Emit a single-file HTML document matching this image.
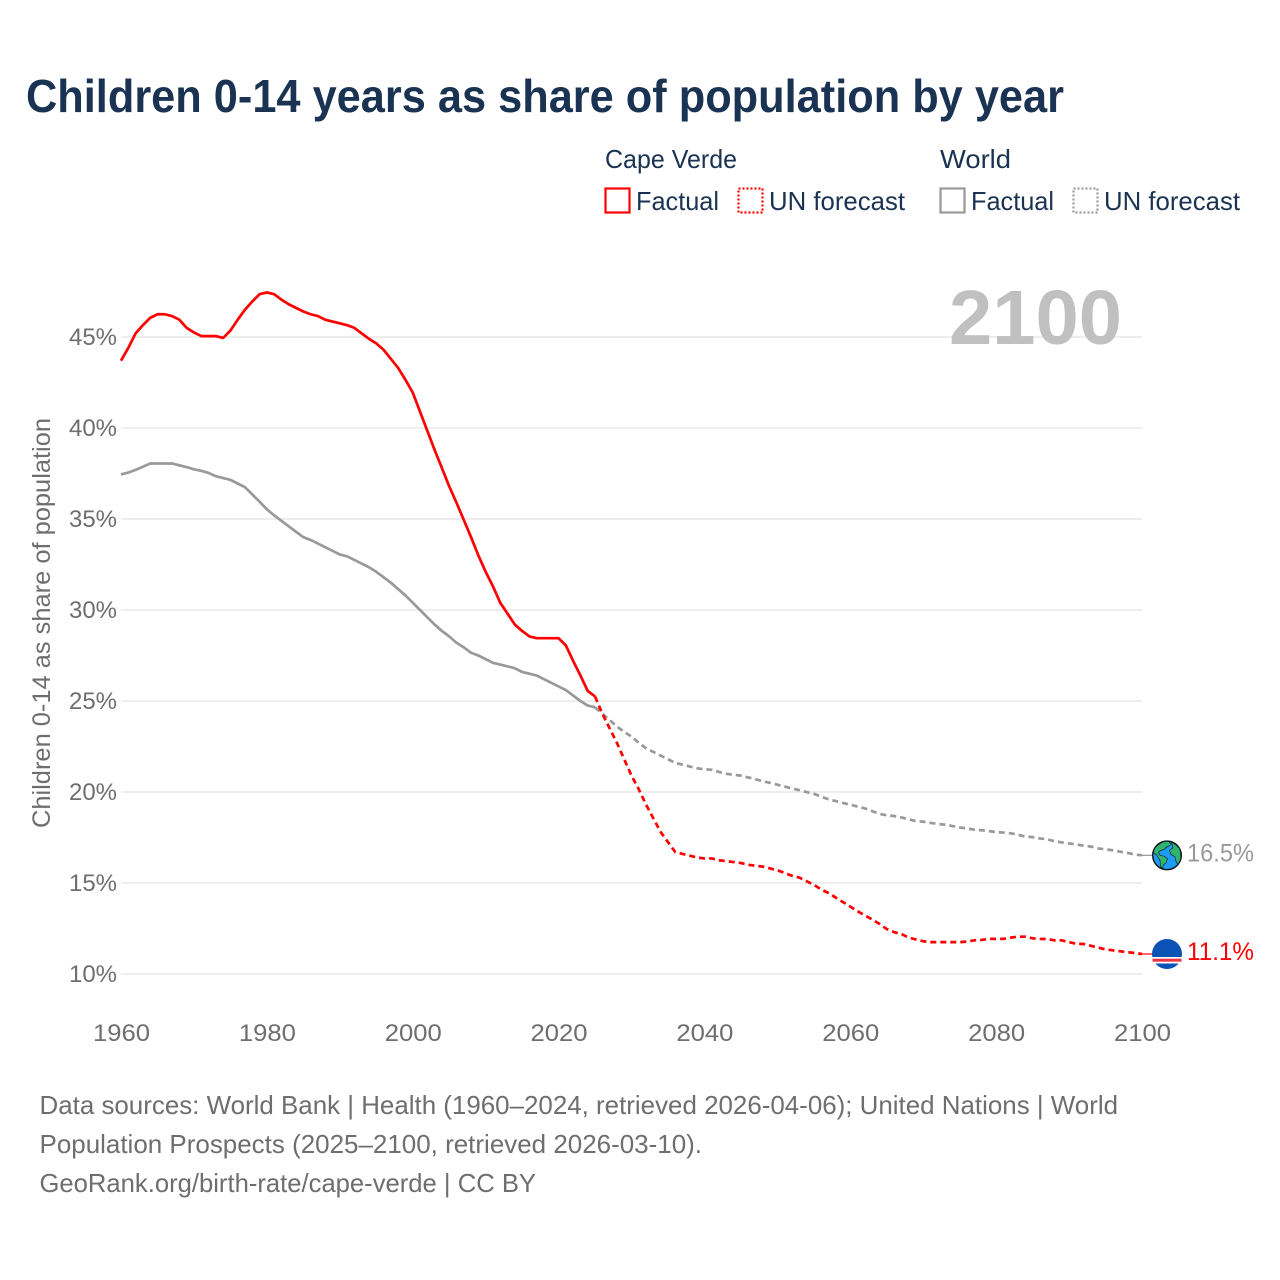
<!DOCTYPE html>
<html lang="en">
<head>
<meta charset="utf-8">
<title>Children 0-14 years as share of population by year</title>
<style>
html,body{margin:0;padding:0;background:#fff;}
svg{display:block;}
text{font-family:"Liberation Sans",sans-serif;}
</style>
</head>
<body>
<svg id="chart" width="1280" height="1280" viewBox="0 0 1280 1280" xmlns="http://www.w3.org/2000/svg">
  <rect x="0" y="0" width="1280" height="1280" fill="#fff"/>
  <text x="26" y="112" font-size="46" font-weight="700" fill="#1a3353" textLength="1038" lengthAdjust="spacingAndGlyphs">Children 0-14 years as share of population by year</text>

  <g font-size="26" fill="#1a3353">
    <text x="605" y="168" textLength="132" lengthAdjust="spacingAndGlyphs">Cape Verde</text>
    <text x="940" y="168" textLength="71" lengthAdjust="spacingAndGlyphs">World</text>
    <rect x="605.5" y="188.5" width="24" height="24" fill="none" stroke="#ff0000" stroke-width="2.2"/>
    <text x="636" y="210" textLength="83" lengthAdjust="spacingAndGlyphs">Factual</text>
    <rect x="738.5" y="188.5" width="24" height="24" fill="none" stroke="#ff0000" stroke-width="2.2" stroke-dasharray="2 2"/>
    <text x="769" y="210" textLength="136" lengthAdjust="spacingAndGlyphs">UN forecast</text>
    <rect x="940.5" y="188.5" width="24" height="24" fill="none" stroke="#999999" stroke-width="2.2"/>
    <text x="971" y="210" textLength="83" lengthAdjust="spacingAndGlyphs">Factual</text>
    <rect x="1073.5" y="188.5" width="24" height="24" fill="none" stroke="#999999" stroke-width="2.2" stroke-dasharray="2 2"/>
    <text x="1104" y="210" textLength="136" lengthAdjust="spacingAndGlyphs">UN forecast</text>
  </g>

  <g id="grid"></g>
  <text x="949" y="344" font-size="77" font-weight="700" fill="#c0c0c0" textLength="173" lengthAdjust="spacingAndGlyphs">2100</text>
  <g id="yticks" font-size="24" fill="#6e6e6e" text-anchor="end"></g>
  <g id="xticks" font-size="24" fill="#6e6e6e" text-anchor="middle"></g>
  <text transform="translate(50,828) rotate(-90)" x="0" y="0" font-size="25" fill="#6e6e6e" textLength="410" lengthAdjust="spacingAndGlyphs">Children 0-14 as share of population</text>

  <g id="series"></g>

  <g id="globe-icon">
    <circle cx="0" cy="0" r="14.3" fill="#1e9bf5" stroke="#111" stroke-width="1.4"/>
    <path d="M-8-11C-5-13.5-1-14.3 2-13.8L4-11C2-8.5-1-9-2-6.5-4-5-7-5.5-8.5-3L-7 0-2.5 1 .5 3.5-1 7.5-3.5 9.5-4.5 13.2-6.5 11-7 5-10.5-.5-13.5-3C-13.3-6-11-9-8-11Z" fill="#2fb56b" stroke="#123" stroke-width=".7"/>
    <path d="M4.5-12.8C8.5-11.5 11.5-8.5 13.3-5L13.8 3 11 9.5 9 6 8 1.5 4-1 2.5-5 6-7.5Z" fill="#2fb56b" stroke="#123" stroke-width=".7"/>
  </g>
  <g id="flag-icon">
    <circle cx="0" cy="0" r="15" fill="#0a52b5"/>
    <path d="M-14.6 3H14.6L14.9 2V9.5L14 9.5H-14L-14.9 9.5V2Z" fill="#fff"/>
    <rect x="-14.5" y="4.7" width="29" height="3" fill="#ee3344"/>
  </g>
  <text id="world-value" x="1187" font-size="25" fill="#999999" textLength="67" lengthAdjust="spacingAndGlyphs"></text>
  <text id="cv-value" x="1187" font-size="25" fill="#ff0000" textLength="67" lengthAdjust="spacingAndGlyphs"></text>

  <g font-size="26" fill="#6e6e6e">
    <text x="39.5" y="1114" textLength="1078.5" lengthAdjust="spacingAndGlyphs">Data sources: World Bank | Health (1960–2024, retrieved 2026-04-06); United Nations | World</text>
    <text x="39.5" y="1153" textLength="662.5" lengthAdjust="spacingAndGlyphs">Population Prospects (2025–2100, retrieved 2026-03-10).</text>
    <text x="39.5" y="1192" textLength="496.5" lengthAdjust="spacingAndGlyphs">GeoRank.org/birth-rate/cape-verde | CC BY</text>
  </g>
</svg>
<script>
const xTickYears = [1960, 1980, 2000, 2020, 2040, 2060, 2080, 2100];
const yTickValues = [10, 15, 20, 25, 30, 35, 40, 45];
const factualStartYear = 1960;
const forecastStartYear = 2025;

const capeVerdeFactual = [43.7,44.4,45.2,45.65,46.05,46.25,46.25,46.15,45.95,45.5,45.25,45.05,45.05,45.05,44.95,45.35,45.95,46.5,46.95,47.35,47.45,47.35,47.05,46.8,46.6,46.4,46.25,46.15,45.95,45.85,45.75,45.65,45.5,45.2,44.9,44.65,44.3,43.8,43.3,42.65,41.95,40.9,39.85,38.8,37.8,36.8,35.9,34.95,34.0,33.0,32.1,31.3,30.4,29.8,29.2,28.85,28.55,28.45,28.45,28.45,28.45,28.05,27.2,26.4,25.55,25.25];
const capeVerdeForecast = [25.25,24.3,23.5,22.7,21.8,20.9,20.15,19.3,18.55,17.8,17.25,16.7,16.6,16.5,16.4,16.35,16.35,16.25,16.2,16.15,16.1,16.0,15.95,15.9,15.8,15.7,15.55,15.4,15.3,15.1,14.9,14.65,14.45,14.2,13.95,13.7,13.45,13.22,13.0,12.75,12.47,12.3,12.2,12.0,11.9,11.8,11.75,11.75,11.75,11.75,11.75,11.78,11.85,11.87,11.93,11.93,11.93,12.0,12.05,12.05,11.96,11.93,11.92,11.85,11.85,11.75,11.66,11.65,11.55,11.45,11.35,11.3,11.25,11.2,11.15,11.1];
const worldFactual = [37.45,37.55,37.7,37.87,38.05,38.05,38.05,38.05,37.95,37.85,37.73,37.65,37.53,37.35,37.25,37.15,36.95,36.75,36.35,35.95,35.53,35.2,34.9,34.6,34.3,34.0,33.85,33.65,33.45,33.25,33.05,32.95,32.75,32.55,32.35,32.1,31.8,31.5,31.15,30.8,30.4,30.0,29.6,29.2,28.85,28.55,28.2,27.95,27.65,27.5,27.3,27.1,27.0,26.9,26.8,26.6,26.5,26.4,26.2,26.0,25.8,25.6,25.3,25.0,24.75,24.65];
const worldForecast = [24.65,24.3,23.95,23.6,23.3,23.05,22.7,22.4,22.2,22.0,21.8,21.6,21.5,21.4,21.3,21.25,21.22,21.1,21.0,20.95,20.9,20.8,20.7,20.6,20.5,20.4,20.3,20.2,20.1,20.0,19.9,19.75,19.6,19.5,19.4,19.3,19.2,19.1,18.95,18.8,18.72,18.68,18.6,18.5,18.4,18.37,18.3,18.25,18.2,18.13,18.05,18.0,17.93,17.9,17.85,17.8,17.77,17.73,17.65,17.55,17.52,17.45,17.4,17.3,17.23,17.17,17.12,17.05,17.0,16.9,16.85,16.8,16.72,16.65,16.57,16.52];

const NS = 'http://www.w3.org/2000/svg';
function xScale(year) { return 121 + (year - 1960) * (1142 - 121) / 140; }
function yScale(value) { return 974 - (value - 10) * (974 - 337) / 35; }
function linePath(values, startYear) {
  return values.map(function (v, i) {
    return (i ? 'L' : 'M') + xScale(startYear + i).toFixed(2) + ' ' + yScale(v).toFixed(2);
  }).join('');
}
function drawLine(parent, name, values, startYear, color, dashed) {
  const p = document.createElementNS(NS, 'path');
  
  
  p.setAttribute('d', linePath(values, startYear));
  p.setAttribute('fill', 'none');
  p.setAttribute('stroke', color);
  p.setAttribute('stroke-width', '2.7');
  p.setAttribute('stroke-linejoin', 'round');
  if (dashed) p.setAttribute('stroke-dasharray', '6 4');
  parent.appendChild(p);
}

const grid = document.getElementById('grid');
const yticks = document.getElementById('yticks');
yTickValues.forEach(function (v) {
  const l = document.createElementNS(NS, 'line');
  
  
  l.setAttribute('x1', xScale(1960));
  l.setAttribute('x2', xScale(2100));
  l.setAttribute('y1', yScale(v));
  l.setAttribute('y2', yScale(v));
  l.setAttribute('stroke', '#eeeeee');
  l.setAttribute('stroke-width', '2');
  grid.appendChild(l);
  const t = document.createElementNS(NS, 'text');
  
  
  t.setAttribute('x', 117);
  t.setAttribute('y', yScale(v) + 8);
  t.setAttribute('textLength', '48');
  t.setAttribute('lengthAdjust', 'spacingAndGlyphs');
  t.textContent = v + '%';
  yticks.appendChild(t);
});

const xticks = document.getElementById('xticks');
xTickYears.forEach(function (yr) {
  const t = document.createElementNS(NS, 'text');
  
  
  t.setAttribute('x', xScale(yr) + 0.5);
  t.setAttribute('y', 1041);
  t.setAttribute('textLength', '57');
  t.setAttribute('lengthAdjust', 'spacingAndGlyphs');
  t.textContent = yr;
  xticks.appendChild(t);
});

const series = document.getElementById('series');
drawLine(series, 'world-factual-line', worldFactual, factualStartYear, '#999999', false);
drawLine(series, 'world-forecast-line', worldForecast, forecastStartYear, '#999999', true);
drawLine(series, 'cape-verde-factual-line', capeVerdeFactual, factualStartYear, '#ff0000', false);
drawLine(series, 'cape-verde-forecast-line', capeVerdeForecast, forecastStartYear, '#ff0000', true);

function placeEnd(values, color, iconId, labelId, leaderName) {
  const last = values[values.length - 1];
  const py = yScale(last);
  const l = document.createElementNS(NS, 'line');
  
  
  l.setAttribute('x1', xScale(2100));
  l.setAttribute('x2', 1153);
  l.setAttribute('y1', py);
  l.setAttribute('y2', py);
  l.setAttribute('stroke', color);
  l.setAttribute('stroke-width', '1.2');
  series.appendChild(l);
  document.getElementById(iconId).setAttribute('transform', 'translate(1167,' + py.toFixed(2) + ')');
  const t = document.getElementById(labelId);
  t.setAttribute('y', (py + 6).toFixed(2));
  t.textContent = last.toFixed(1) + '%';
}
placeEnd(worldForecast, '#999999', 'globe-icon', 'world-value', 'world-leader-line');
placeEnd(capeVerdeForecast, '#ff0000', 'flag-icon', 'cv-value', 'cape-verde-leader-line');
</script>
</body>
</html>
